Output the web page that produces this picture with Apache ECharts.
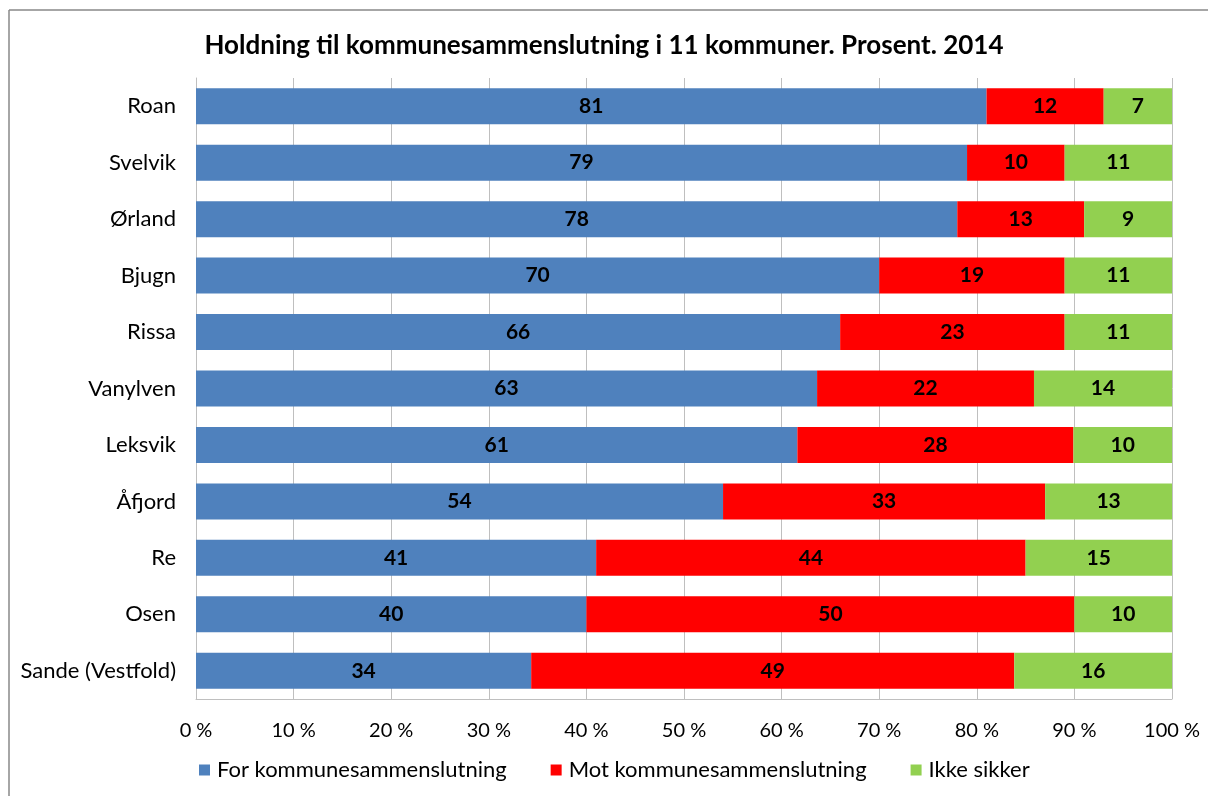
<!DOCTYPE html>
<html>
<head>
<meta charset="utf-8">
<script src="https://cdn.jsdelivr.net/npm/echarts@6/dist/echarts.min.js"></script>
<style>
  html, body { margin: 0; padding: 0; background: #fff; }
  #main { width: 1208px; height: 796px; }
</style>
</head>
<body>
<div id="main"></div>
<script>
var kommuner = ['Roan', 'Svelvik', 'Ørland', 'Bjugn', 'Rissa', 'Vanylven', 'Leksvik', 'Åfjord', 'Re', 'Osen', 'Sande (Vestfold)'];
var forVals = [81, 79, 78, 70, 66, 63, 61, 54, 41, 40, 34];
var motVals = [12, 10, 13, 19, 23, 22, 28, 33, 44, 50, 49];
var ikkeVals = [7, 11, 9, 11, 11, 14, 10, 13, 15, 10, 16];
var xTicks = [0, 10, 20, 30, 40, 50, 60, 70, 80, 90, 100];

var font = 'Lato, "Open Sans", sans-serif';

// 100 % stablet: hver rad skaleres til summen, etiketten viser tallet
function andel(vals) {
  var out = [];
  for (var i = 0; i < vals.length; i++) {
    var sum = forVals[i] + motVals[i] + ikkeVals[i];
    out.push({ value: vals[i] / sum * 100, raw: vals[i] });
  }
  return out;
}

function serie(navn, vals, farge) {
  return {
    name: navn,
    type: 'bar',
    stack: 'total',
    data: andel(vals),
    barWidth: 36,
    itemStyle: { color: farge },
    label: {
      show: true,
      position: 'inside',
      color: '#000',
      fontFamily: font,
      fontWeight: 'bold',
      fontSize: 21,
      formatter: function (p) { return p.data.raw; }
    }
  };
}

var myChart = echarts.init(document.getElementById('main'));
myChart.setOption({
  animation: false,
  title: {
    text: 'Holdning til kommunesammenslutning i 11 kommuner. Prosent. 2014',
    left: 'center',
    top: 28,
    textStyle: { fontFamily: font, fontWeight: 'bold', fontSize: 26, color: '#000' }
  },
  graphic: [
    { type: 'line', shape: { x1: 9, y1: 10, x2: 1208, y2: 10 }, style: { stroke: '#888', lineWidth: 1.5 } },
    { type: 'line', shape: { x1: 9, y1: 10, x2: 9, y2: 796 }, style: { stroke: '#888', lineWidth: 1.5 } }
  ],
  legend: {
    bottom: 10,
    left: 194,
    icon: 'rect',
    itemWidth: 11,
    itemHeight: 11,
    itemGap: 44,
    textStyle: { fontFamily: font, fontSize: 22, color: '#000', padding: [0, 0, 0, 2] },
    data: ['For kommunesammenslutning', 'Mot kommunesammenslutning', 'Ikke sikker']
  },
  grid: {
    left: 196,
    right: 36,
    top: 78,
    bottom: 97
  },
  xAxis: {
    type: 'value',
    min: xTicks[0],
    max: xTicks[xTicks.length - 1],
    interval: 10,
    axisLine: { show: true, lineStyle: { color: '#bfbfbf' } },
    axisTick: { show: false },
    splitLine: { show: true, lineStyle: { color: '#bfbfbf' } },
    axisLabel: {
      margin: 22,
      fontFamily: font,
      fontSize: 20,
      color: '#000',
      formatter: '{value} %'
    }
  },
  yAxis: {
    type: 'category',
    inverse: true,
    data: kommuner,
    axisLine: { show: true, lineStyle: { color: '#bfbfbf' } },
    axisTick: { show: false },
    axisLabel: { margin: 20, fontFamily: font, fontSize: 22, color: '#000' }
  },
  series: [
    serie('For kommunesammenslutning', forVals, '#4f81bd'),
    serie('Mot kommunesammenslutning', motVals, '#ff0000'),
    serie('Ikke sikker', ikkeVals, '#92d050')
  ]
});
</script>
</body>
</html>
